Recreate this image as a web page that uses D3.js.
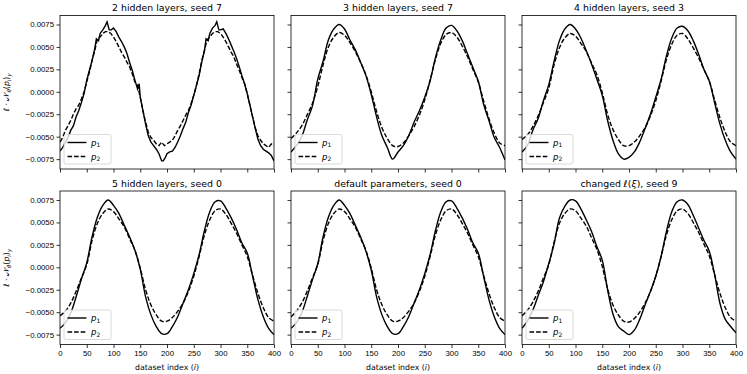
<!DOCTYPE html>
<html>
<head>
<meta charset="utf-8">
<script src="https://cdn.jsdelivr.net/npm/d3@7"></script>
<style>
    body { margin: 0; background: #fff; }
    svg { font-family: "DejaVu Sans", sans-serif; }
    .axis path, .axis line { stroke: #000; stroke-width: 0.8px; }
    .axis text { font-size: 7.8px; fill: #000; }
    .title { font-size: 9.4px; }
    .curve { fill: none; stroke: #000; stroke-width: 1.4px; }
    .dashed { stroke-dasharray: 4.6, 2; }
</style>
</head>
<body>
<div id="chart"></div>
<script>

// panel titles, row by row
var titles = [
    "2 hidden layers, seed 7", "3 hidden layers, seed 7", "4 hidden layers, seed 3",
    "5 hidden layers, seed 0", "default parameters, seed 0", "changed ℓ(ξ), seed 9"
];

var xTicks = [0, 50, 100, 150, 200, 250, 300, 350, 400];
var yTicks = [0.0075, 0.005, 0.0025, 0, -0.0025, -0.005, -0.0075];

// dataset index grid for the smoother panels
var idx10 = d3.range(0, 401, 10);

// panel 1 is jagged, read as [index, value] pairs
var p1Layers2 = [
    [0,-0.0066],[5,-0.0062],[10,-0.0056],[15,-0.0051],[20,-0.0043],[25,-0.0038],[30,-0.0028],
    [35,-0.0021],[40,-0.0012],[45,-0.0002],[50,0.0013],[55,0.0024],[60,0.0035],[65,0.0048],
    [68,0.0059],[72,0.0057],[75,0.0065],[80,0.0069],[85,0.0074],[88,0.0078],[92,0.0069],
    [96,0.0069],[100,0.0071],[105,0.0067],[110,0.0061],[115,0.0056],[120,0.0050],[125,0.0043],
    [130,0.0033],[135,0.0024],[140,0.0013],[145,0.0003],[148,0.0009],[150,-0.0006],[155,-0.0021],
    [160,-0.0036],[165,-0.0049],[170,-0.0056],[175,-0.0060],[180,-0.0064],[185,-0.0069],
    [190,-0.0077],[193,-0.0077],[197,-0.0073],[200,-0.0069],[205,-0.0067],[210,-0.0066],
    [215,-0.0062],[220,-0.0056],[225,-0.0049],[230,-0.0041],[235,-0.0034],[240,-0.0023],
    [245,-0.0015],[250,-0.0004],[255,0.0007],[260,0.0018],[265,0.0033],[270,0.0046],
    [273,0.0059],[277,0.0057],[280,0.0065],[285,0.0071],[290,0.0074],[293,0.0078],[297,0.0069],
    [300,0.0069],[305,0.0070],[310,0.0065],[315,0.0059],[320,0.0052],[325,0.0045],[330,0.0037],
    [335,0.0028],[340,0.0018],[345,0.0009],[350,-0.0002],[355,-0.0015],[360,-0.0028],
    [365,-0.0041],[370,-0.0053],[375,-0.0060],[380,-0.0064],[385,-0.0066],[390,-0.0068],
    [395,-0.0071],[400,-0.0077]
];
var p2Layers2 = [
    [0,-0.0056],[5,-0.0051],[10,-0.0043],[15,-0.0038],[20,-0.0032],[25,-0.0025],[30,-0.0019],
    [35,-0.0015],[40,-0.0008],[45,0.0000],[50,0.0011],[55,0.0022],[60,0.0035],[65,0.0046],
    [70,0.0059],[75,0.0061],[80,0.0065],[85,0.0067],[90,0.0067],[95,0.0065],[100,0.0061],
    [105,0.0056],[110,0.0050],[115,0.0044],[120,0.0039],[125,0.0033],[130,0.0028],[135,0.0020],
    [140,0.0011],[145,0.0007],[150,-0.0006],[155,-0.0021],[160,-0.0034],[165,-0.0045],
    [170,-0.0051],[175,-0.0054],[180,-0.0058],[185,-0.0060],[190,-0.0056],[195,-0.0060],
    [200,-0.0058],[205,-0.0056],[210,-0.0054],[215,-0.0049],[220,-0.0043],[225,-0.0038],
    [230,-0.0032],[235,-0.0026],[240,-0.0021],[245,-0.0013],[250,-0.0004],[255,0.0007],
    [260,0.0020],[265,0.0035],[270,0.0046],[275,0.0058],[280,0.0061],[285,0.0065],[290,0.0067],
    [295,0.0067],[300,0.0065],[305,0.0061],[310,0.0056],[315,0.0050],[320,0.0044],[325,0.0039],
    [330,0.0031],[335,0.0024],[340,0.0016],[345,0.0009],[350,-0.0002],[355,-0.0015],
    [360,-0.0028],[365,-0.0040],[370,-0.0049],[375,-0.0054],[380,-0.0058],[385,-0.0060],
    [390,-0.0062],[395,-0.0058],[400,-0.0060]
];

// the other panels, one value per idx10 entry
var p1Layers3 = [-0.0067,-0.0060,-0.0050,-0.0032,-0.0016,0.0014,0.0034,0.0058,0.0070,0.0075,
    0.0070,0.0058,0.0047,0.0033,0.0018,-0.0003,-0.0028,-0.0049,-0.0062,-0.0075,
    -0.0067,-0.0060,-0.0049,-0.0034,-0.0021,-0.0006,0.0012,0.0038,0.0058,0.0071,
    0.0074,0.0068,0.0057,0.0042,0.0027,0.0012,-0.0014,-0.0032,-0.0051,-0.0062,-0.0076];
var p2Layers3 = [-0.0052,-0.0046,-0.0038,-0.0026,-0.0013,0.0006,0.0030,0.0050,0.0061,0.0066,
    0.0063,0.0055,0.0045,0.0033,0.0019,0.0000,-0.0022,-0.0040,-0.0052,-0.0060,
    -0.0061,-0.0057,-0.0049,-0.0039,-0.0026,-0.0009,0.0013,0.0036,0.0054,0.0064,
    0.0066,0.0061,0.0051,0.0039,0.0025,0.0011,-0.0010,-0.0030,-0.0046,-0.0057,-0.0060];

var p1Layers4 = [-0.0067,-0.0060,-0.0043,-0.0030,-0.0010,0.0008,0.0034,0.0057,0.0070,0.0075,
    0.0070,0.0060,0.0046,0.0031,0.0014,-0.0004,-0.0032,-0.0054,-0.0069,-0.0075,
    -0.0073,-0.0067,-0.0056,-0.0041,-0.0025,-0.0006,0.0014,0.0040,0.0060,0.0071,
    0.0073,0.0068,0.0057,0.0042,0.0025,0.0012,-0.0012,-0.0036,-0.0054,-0.0067,-0.0075];
var p2Layers4 = [-0.0053,-0.0048,-0.0039,-0.0027,-0.0012,0.0004,0.0030,0.0049,0.0060,0.0065,
    0.0062,0.0054,0.0045,0.0032,0.0019,-0.0001,-0.0025,-0.0042,-0.0053,-0.0060,
    -0.0060,-0.0056,-0.0049,-0.0040,-0.0027,-0.0010,0.0012,0.0036,0.0053,0.0063,
    0.0065,0.0059,0.0049,0.0038,0.0025,0.0012,-0.0009,-0.0029,-0.0045,-0.0056,-0.0060];

var p1Layers5 = [-0.0068,-0.0062,-0.0051,-0.0033,-0.0013,0.0005,0.0034,0.0056,0.0069,0.0075,
    0.0069,0.0060,0.0047,0.0034,0.0019,-0.0002,-0.0033,-0.0053,-0.0066,-0.0074,
    -0.0074,-0.0066,-0.0055,-0.0040,-0.0025,-0.0007,0.0014,0.0041,0.0062,0.0073,
    0.0074,0.0066,0.0055,0.0042,0.0027,0.0016,-0.0010,-0.0036,-0.0055,-0.0068,-0.0075];
var p2Layers5 = [-0.0054,-0.0049,-0.0040,-0.0027,-0.0012,0.0003,0.0030,0.0049,0.0060,0.0065,
    0.0062,0.0054,0.0045,0.0032,0.0019,-0.0001,-0.0025,-0.0042,-0.0053,-0.0060,
    -0.0060,-0.0056,-0.0049,-0.0040,-0.0027,-0.0010,0.0012,0.0036,0.0053,0.0063,
    0.0065,0.0059,0.0049,0.0038,0.0025,0.0012,-0.0009,-0.0029,-0.0045,-0.0056,-0.0060];

var p1Default = [-0.0068,-0.0062,-0.0051,-0.0033,-0.0014,0.0004,0.0034,0.0056,0.0069,0.0075,
    0.0069,0.0060,0.0047,0.0034,0.0018,-0.0003,-0.0033,-0.0053,-0.0066,-0.0074,
    -0.0074,-0.0066,-0.0055,-0.0040,-0.0025,-0.0007,0.0014,0.0041,0.0062,0.0073,
    0.0074,0.0066,0.0055,0.0042,0.0027,0.0016,-0.0010,-0.0036,-0.0055,-0.0068,-0.0075];
var p2Default = [-0.0055,-0.0049,-0.0040,-0.0027,-0.0012,0.0003,0.0030,0.0049,0.0060,0.0065,
    0.0062,0.0054,0.0045,0.0032,0.0019,-0.0001,-0.0025,-0.0042,-0.0053,-0.0060,
    -0.0060,-0.0056,-0.0049,-0.0040,-0.0027,-0.0010,0.0012,0.0036,0.0053,0.0063,
    0.0065,0.0059,0.0049,0.0038,0.0025,0.0012,-0.0009,-0.0029,-0.0045,-0.0056,-0.0060];

var p1Changed = [-0.0068,-0.0060,-0.0048,-0.0032,-0.0016,0.0004,0.0026,0.0055,0.0068,0.0075,
    0.0074,0.0065,0.0053,0.0040,0.0023,0.0008,-0.0025,-0.0052,-0.0066,-0.0071,
    -0.0075,-0.0070,-0.0058,-0.0042,-0.0027,-0.0010,0.0012,0.0040,0.0062,0.0073,
    0.0075,0.0070,0.0058,0.0044,0.0030,0.0018,-0.0008,-0.0040,-0.0058,-0.0066,-0.0073];
var p2Changed = [-0.0054,-0.0048,-0.0039,-0.0027,-0.0012,0.0003,0.0028,0.0049,0.0060,0.0065,
    0.0063,0.0055,0.0046,0.0033,0.0020,0.0001,-0.0024,-0.0042,-0.0053,-0.0060,
    -0.0061,-0.0057,-0.0050,-0.0040,-0.0027,-0.0010,0.0012,0.0036,0.0053,0.0063,
    0.0065,0.0060,0.0050,0.0039,0.0026,0.0013,-0.0008,-0.0029,-0.0045,-0.0056,-0.0060];

function onGrid(values) {
    return values.map(function (v, i) { return [idx10[i], v]; });
}

var series = [
    {p1: p1Layers2, p2: p2Layers2, curve: d3.curveLinear},
    {p1: onGrid(p1Layers3), p2: onGrid(p2Layers3), curve: d3.curveCatmullRom},
    {p1: onGrid(p1Layers4), p2: onGrid(p2Layers4), curve: d3.curveCatmullRom},
    {p1: onGrid(p1Layers5), p2: onGrid(p2Layers5), curve: d3.curveCatmullRom},
    {p1: onGrid(p1Default), p2: onGrid(p2Default), curve: d3.curveCatmullRom},
    {p1: onGrid(p1Changed), p2: onGrid(p2Changed), curve: d3.curveCatmullRom}
];

//--------------------------------------------------------------------------
//
// layout
//

var outerWidth = 747,
    outerHeight = 374,
    panelW = 214,
    panelH = 153.5,
    lefts = [60, 291, 522],
    tops = [15.5, 191];

var svg = d3.select("#chart").append("svg")
    .attr("width", outerWidth)
    .attr("height", outerHeight);

var x = d3.scaleLinear().domain([0, 400]).range([0, panelW]);
var y = d3.scaleLinear().domain([-0.0086, 0.0085]).range([panelH, 0]);

titles.forEach(function (title, k) {
    var col = k % 3, row = Math.floor(k / 3);
    var g = svg.append("g")
        .attr("transform", "translate(" + lefts[col] + "," + tops[row] + ")");

    g.append("clipPath").attr("id", "clip" + k)
        .append("rect").attr("width", panelW).attr("height", panelH);

    var plot = g.append("g").attr("clip-path", "url(#clip" + k + ")");
    var s = series[k];

    var line = d3.line()
        .x(function (d) { return x(d[0]); })
        .y(function (d) { return y(d[1]); })
        .curve(s.curve);

    plot.append("path").attr("class", "curve").attr("d", line(s.p1));
    plot.append("path").attr("class", "curve dashed").attr("d", line(s.p2));

    // legend, lower left
    var lg = g.append("g").attr("transform", "translate(4," + (panelH - 34.5) + ")");
    lg.append("rect")
        .attr("width", 47).attr("height", 29.5).attr("rx", 2)
        .attr("fill", "#fff").attr("fill-opacity", 0.8)
        .attr("stroke", "#d0d0d0").attr("stroke-width", 0.8);
    [["1", ""], ["2", "dashed"]].forEach(function (e, j) {
        var ly = 8 + j * 14;
        lg.append("line").attr("class", "curve " + e[1])
            .attr("x1", 3.5).attr("x2", 22.5).attr("y1", ly).attr("y2", ly);
        var t = lg.append("text").attr("x", 27).attr("y", ly + 3).attr("font-size", 8.5);
        t.append("tspan").attr("font-style", "italic").text("p");
        t.append("tspan").attr("font-size", 6).attr("dy", 1.8).text(e[0]);
    });

    // axes
    var xAxis = d3.axisBottom(x).tickValues(xTicks).tickSize(3.5).tickPadding(2.5);
    if (row === 0) xAxis.tickFormat("");
    g.append("g").attr("class", "axis")
        .attr("transform", "translate(0," + panelH + ")")
        .call(xAxis);

    var yAxis = d3.axisLeft(y).tickValues(yTicks).tickSize(3.5).tickPadding(2.5)
        .tickFormat(d3.format(".4f"));
    if (col > 0) yAxis.tickFormat("");
    g.append("g").attr("class", "axis").call(yAxis);

    g.selectAll(".axis path.domain").remove();
    g.append("rect").attr("width", panelW).attr("height", panelH)
        .attr("fill", "none").attr("stroke", "#000").attr("stroke-width", 0.8);

    // title
    var tt = g.append("text").attr("class", "title")
        .attr("x", panelW / 2).attr("y", -4.5).attr("text-anchor", "middle");
    if (title.indexOf("ℓ(ξ)") >= 0) {
        tt.append("tspan").text("changed ");
        tt.append("tspan").attr("font-style", "italic").text("ℓ");
        tt.append("tspan").text("(");
        tt.append("tspan").attr("font-style", "italic").text("ξ");
        tt.append("tspan").text("), seed 9");
    } else {
        tt.text(title);
    }

    if (col === 0) {
        var yl = g.append("text")
            .attr("transform", "translate(-51," + (panelH / 2) + ") rotate(-90)")
            .attr("text-anchor", "middle").attr("font-size", 7.8);
        yl.append("tspan").attr("font-style", "italic").text("ℓ");
        yl.append("tspan").text(" · ");
        yl.append("tspan").text("𝒩");
        yl.append("tspan").attr("font-size", 5.5).attr("dy", 1.6).attr("font-style", "italic").text("θ");
        yl.append("tspan").attr("dy", -1.6).text("(");
        yl.append("tspan").attr("font-style", "italic").text("p");
        yl.append("tspan").attr("font-size", 5.5).attr("dy", 1.6).attr("font-style", "italic").text("i");
        yl.append("tspan").attr("dy", -1.6).text(")");
        yl.append("tspan").attr("font-size", 5.5).attr("dy", 1.6).attr("font-style", "italic").text("y");
    }

    if (row === 1) {
        var xl = g.append("text")
            .attr("x", panelW / 2).attr("y", panelH + 25.5)
            .attr("text-anchor", "middle").attr("font-size", 7.8);
        xl.append("tspan").text("dataset index (");
        xl.append("tspan").attr("font-style", "italic").text("i");
        xl.append("tspan").text(")");
    }
});

</script>
</body>
</html>
